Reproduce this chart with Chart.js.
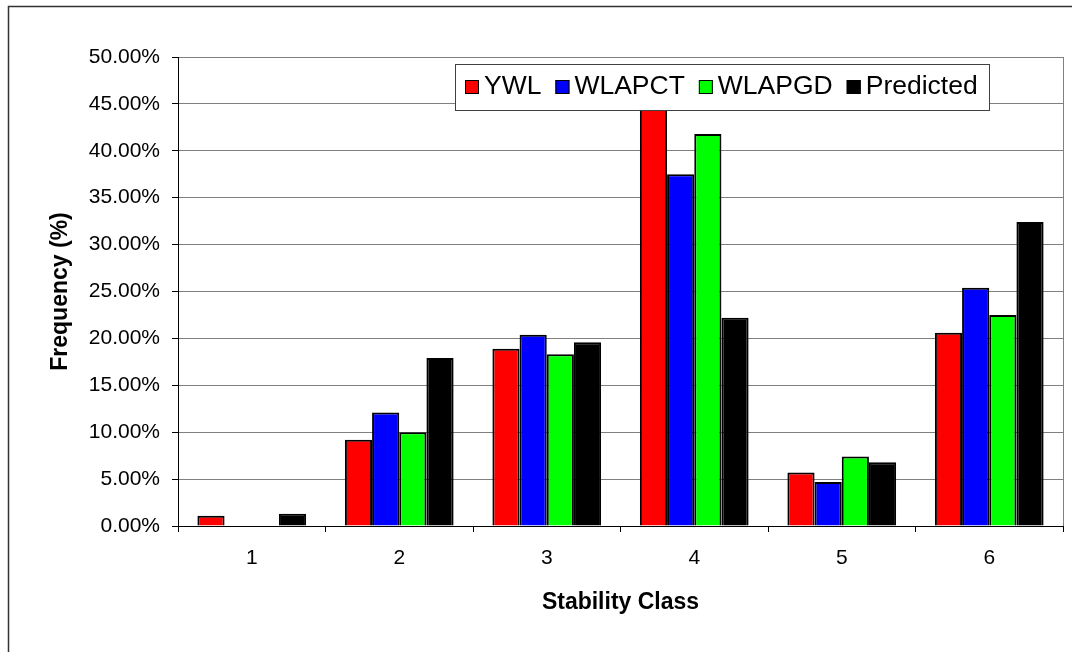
<!DOCTYPE html>
<html>
<head>
<meta charset="utf-8">
<script src="https://cdn.jsdelivr.net/npm/chart.js@4/dist/chart.umd.min.js"></script>
<style>
  html, body { margin: 0; padding: 0; background: #fff; }
  #wrap { width: 1072px; height: 652px; }
</style>
</head>
<body>
<div id="wrap"><canvas id="c" width="1072" height="652"></canvas></div>
<script>
// Stability class categories and frequency (%) per source
const classes = ['1', '2', '3', '4', '5', '6'];
const ywl = [1.1, 9.2, 18.9, 44.5, 5.7, 20.6];
const wlapct = [0, 12.1, 20.4, 37.5, 4.7, 25.4];
const wlapgd = [0, 10.0, 18.3, 41.8, 7.4, 22.5];
const predicted = [1.3, 17.9, 19.6, 22.2, 6.8, 32.4];
const seriesNames = ['YWL', 'WLAPCT', 'WLAPGD', 'Predicted'];
const seriesColors = ['#ff0000', '#0000ff', '#00ff00', '#000000'];
const yTickValues = [0, 5, 10, 15, 20, 25, 30, 35, 40, 45, 50];

const FONT = "'Liberation Sans', Arial, Helvetica, sans-serif";
Chart.defaults.font.family = FONT;
Chart.defaults.color = '#000';

// Outer frame of the figure and the grey right edge of the plot area
const framePlugin = {
  id: 'frame',
  afterDraw(chart) {
    const ctx = chart.ctx;
    const a = chart.chartArea;
    ctx.save();
    ctx.strokeStyle = '#808080';
    ctx.lineWidth = 1;
    ctx.beginPath();
    ctx.moveTo(Math.round(a.right) + 0.5, a.top);
    ctx.lineTo(Math.round(a.right) + 0.5, a.bottom);
    ctx.stroke();
    ctx.strokeStyle = '#333';
    ctx.lineWidth = 1.5;
    ctx.strokeRect(8.5, 6.5, 1100, 700);
    ctx.restore();
  }
};

// Boxed legend laid over the top of the plot area
const boxLegend = {
  id: 'boxLegend',
  afterDraw(chart) {
    const ctx = chart.ctx;
    const L = 455, T = 64, R = 990, B = 111;
    ctx.save();
    ctx.fillStyle = '#fff';
    ctx.fillRect(L, T, R - L, B - T);
    ctx.strokeStyle = '#404040';
    ctx.lineWidth = 1;
    ctx.strokeRect(L + 0.5, T + 0.5, R - L - 1, B - T - 1);
    ctx.font = '26.5px ' + FONT;
    ctx.textBaseline = 'middle';
    ctx.textAlign = 'left';
    const cy = 87;
    let x = 465;
    chart.data.datasets.forEach(ds => {
      ctx.fillStyle = ds.backgroundColor;
      ctx.fillRect(x, cy - 7, 14, 14);
      ctx.strokeStyle = '#000';
      ctx.strokeRect(x + 0.5, cy - 6.5, 13, 13);
      ctx.fillStyle = '#000';
      ctx.fillText(ds.label, x + 19, cy);
      x += 19 + ctx.measureText(ds.label).width + 14;
    });
    ctx.restore();
  }
};

const seriesData = [ywl, wlapct, wlapgd, predicted];

new Chart(document.getElementById('c'), {
  type: 'bar',
  data: {
    labels: classes,
    datasets: seriesNames.map((name, i) => ({
      label: name,
      data: seriesData[i],
      backgroundColor: seriesColors[i],
      borderColor: '#000',
      borderWidth: 2,
      categoryPercentage: 0.737,
      barPercentage: 1.0
    }))
  },
  options: {
    responsive: false,
    animation: false,
    devicePixelRatio: 1,
    layout: { padding: { left: 0, top: 57, right: 9, bottom: 0 } },
    plugins: {
      legend: { display: false },
      tooltip: { enabled: false }
    },
    scales: {
      x: {
        grid: {
          offset: true,
          drawOnChartArea: false,
          tickLength: 6,
          tickColor: '#000',
          color: '#000'
        },
        border: { color: '#000', width: 1 },
        ticks: { font: { size: 21 }, padding: 14, color: '#000' },
        title: {
          display: true,
          text: 'Stability Class',
          font: { size: 23, weight: 'bold' },
          padding: { top: 0, bottom: 36 }
        },
        afterFit(s) { s.height = 126; }
      },
      y: {
        min: 0,
        max: 50,
        afterBuildTicks(s) { s.ticks = yTickValues.map(v => ({ value: v })); },
        grid: {
          color: '#808080',
          lineWidth: 1,
          tickLength: 6,
          tickColor: '#000'
        },
        border: { color: '#000', width: 1 },
        ticks: {
          font: { size: 21 },
          padding: 12,
          color: '#000',
          callback: v => v.toFixed(2) + '%'
        },
        title: {
          display: true,
          text: 'Frequency (%)',
          font: { size: 23, weight: 'bold' },
          padding: { top: 47, bottom: 0 }
        },
        afterFit(s) { s.width = 178; }
      }
    }
  },
  plugins: [framePlugin, boxLegend]
});
</script>
</body>
</html>
